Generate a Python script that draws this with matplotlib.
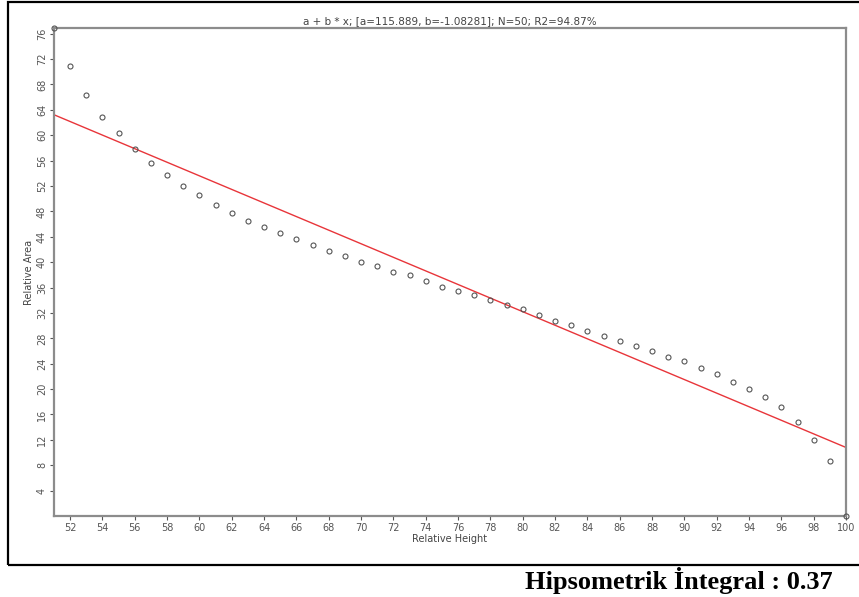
import matplotlib
matplotlib.use("Agg")
import matplotlib.pyplot as plt
from matplotlib.patches import Rectangle
import numpy as np

# relative height (x) and relative area (y)
rel_height = list(range(51, 101))
rel_area = [76.9, 70.9, 66.4, 62.9, 60.3, 57.8, 55.6, 53.8, 52.0, 50.6,
            49.0, 47.8, 46.5, 45.6, 44.6, 43.7, 42.7, 41.8, 40.9, 40.1,
            39.4, 38.5, 37.9, 37.1, 36.1, 35.4, 34.8, 34.1, 33.2, 32.6,
            31.6, 30.7, 30.1, 29.2, 28.3, 27.5, 26.8, 26.0, 25.1, 24.4,
            23.3, 22.3, 21.1, 20.0, 18.8, 17.1, 14.8, 12.0, 8.7, 0.0]

# fitted line as drawn in the picture
fit_a = 117.8
fit_b = -1.07

title_txt = "a + b * x; [a=115.889, b=-1.08281]; N=50; R2=94.87%"
x_ticks = list(range(52, 101, 2))
y_ticks = list(range(4, 77, 4))

fig = plt.figure(figsize=(8.59, 5.97), dpi=100)
fig.patch.set_facecolor("white")

# outer black frame of the screenshot
fig.patches.append(Rectangle((8 / 859, 1 - 565 / 597), 1.0, 563 / 597,
                             transform=fig.transFigure, fill=False,
                             edgecolor="black", linewidth=1.6, clip_on=False))

ax = fig.add_axes([54 / 859, 1 - 516 / 597, 792 / 859, 488 / 597])

xs = np.array([51, 100])
ax.plot(xs, fit_a + fit_b * xs, color="#e8353a", linewidth=1.0, zorder=2)
ax.plot(rel_height, rel_area, linestyle="none", marker="o", markersize=3.6,
        markerfacecolor="none", markeredgecolor="#555555",
        markeredgewidth=0.8, clip_on=False, zorder=3)

ax.set_xlim(51, 100)
ax.set_ylim(0, 76.9)
ax.set_xticks(x_ticks)
ax.set_yticks(y_ticks)
ax.tick_params(axis="both", direction="out", length=3, width=0.8,
               colors="#555555", labelsize=7, pad=2)
for lbl in ax.get_yticklabels():
    lbl.set_rotation(90)
    lbl.set_va("center")

for side in ["left", "right", "top", "bottom"]:
    ax.spines[side].set_color("#8c8c8c")
    ax.spines[side].set_linewidth(1.6)

ax.set_title(title_txt, fontsize=7.5, color="#444444", pad=3)
ax.set_xlabel("Relative Height", fontsize=7, color="#444444", labelpad=1)
ax.set_ylabel("Relative Area", fontsize=7, color="#444444", labelpad=2)

fig.text(525 / 859, 1 - 580 / 597, "Hipsometrik İntegral : 0.37",
         family="Liberation Serif", fontweight="bold", fontsize=19,
         ha="left", va="center", color="black")

fig.savefig("out.png", dpi=100)
